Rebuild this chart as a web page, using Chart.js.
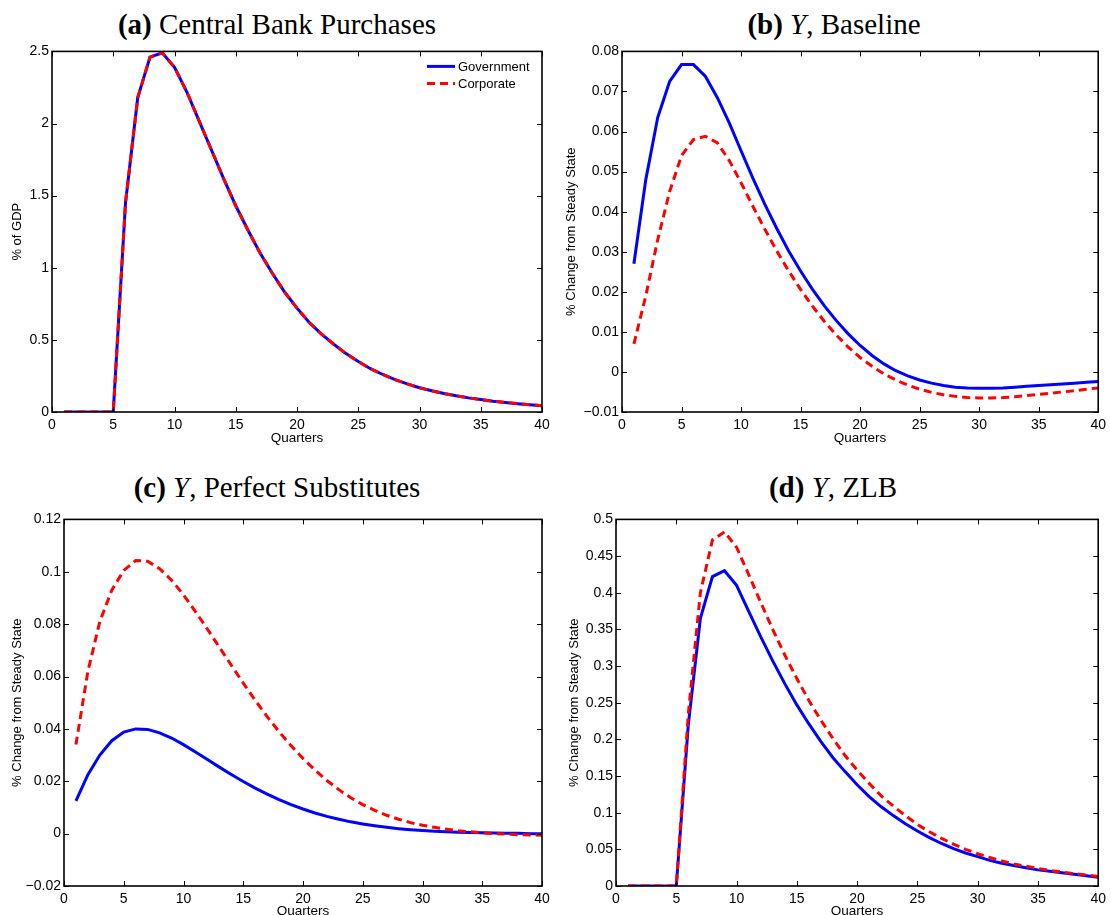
<!DOCTYPE html>
<html>
<head>
<meta charset="utf-8">
<script src="https://cdn.jsdelivr.net/npm/chart.js@4"></script>
<style>
body{margin:0;background:#fff;width:1111px;height:915px;position:relative;overflow:hidden}
canvas{position:absolute}
.ttl{position:absolute;font-family:"Liberation Serif","Times New Roman",serif;font-size:29px;line-height:29px;color:#000;white-space:nowrap;transform:translateX(-50%)}
.ttl i{font-style:italic}
</style>
</head>
<body>

<div class="ttl" style="left:277px;top:10px"><b>(a)</b> Central Bank Purchases</div>
<div class="ttl" style="left:834px;top:10px"><b>(b)</b> <i>Y</i>, Baseline</div>
<div class="ttl" style="left:277px;top:473px"><b>(c)</b> <i>Y</i>, Perfect Substitutes</div>
<div class="ttl" style="left:833px;top:473px"><b>(d)</b> <i>Y</i>, ZLB</div>

<canvas id="chartA" width="560" height="406" style="left:0px;top:40px"></canvas>
<canvas id="chartB" width="551" height="406" style="left:560px;top:40px"></canvas>
<canvas id="chartC" width="560" height="411" style="left:0px;top:508px"></canvas>
<canvas id="chartD" width="551" height="411" style="left:560px;top:508px"></canvas>

<script>

// quarters 1..40
const quarters=[1,2,3,4,5,6,7,8,9,10,11,12,13,14,15,16,17,18,19,20,21,22,23,24,25,26,27,28,29,30,31,32,33,34,35,36,37,38,39,40]

const xTicks=[0,5,10,15,20,25,30,35,40]

// (a) central bank purchases, % of GDP
const purchGov=[0,0,0,0,0,1.45,2.18,2.46,2.49,2.39,2.22,2.02,1.82,1.62,1.43,1.26,1.10,0.96,0.83,0.72,0.62,0.54,0.47,0.405,0.35,0.30,0.26,0.225,0.195,0.168,0.147,0.128,0.112,0.098,0.086,0.075,0.066,0.058,0.051,0.044]
const purchCorp=[0,0,0,0,0,1.45,2.18,2.46,2.49,2.39,2.22,2.02,1.82,1.62,1.43,1.26,1.10,0.96,0.83,0.72,0.62,0.54,0.47,0.405,0.35,0.30,0.26,0.225,0.195,0.168,0.147,0.128,0.112,0.098,0.086,0.075,0.066,0.058,0.051,0.044]
const yTicksA=[0,0.5,1,1.5,2,2.5]

// (b) Y, baseline
const baseGov=[0.027,0.048,0.0635,0.0725,0.0767,0.0767,0.0738,0.0685,0.0622,0.0552,0.0483,0.0418,0.0358,0.0302,0.0252,0.0206,0.0165,0.0128,0.0095,0.0066,0.0041,0.002,0.0003,-0.001,-0.002,-0.0028,-0.0034,-0.0038,-0.004,-0.0041,-0.0041,-0.004,-0.0038,-0.0036,-0.0034,-0.0032,-0.003,-0.0028,-0.0026,-0.0024]
const baseCorp=[0.007,0.019,0.033,0.045,0.054,0.058,0.0588,0.0572,0.0528,0.0472,0.0413,0.0356,0.0302,0.0252,0.0206,0.0164,0.0126,0.0092,0.0062,0.0036,0.0014,-0.0005,-0.002,-0.0033,-0.0043,-0.0051,-0.0057,-0.0061,-0.0064,-0.0065,-0.0065,-0.0064,-0.0062,-0.0059,-0.0056,-0.0053,-0.005,-0.0047,-0.0043,-0.004]
const yTicksB=[-0.01,0,0.01,0.02,0.03,0.04,0.05,0.06,0.07,0.08]

// (c) Y, perfect substitutes
const subsGov=[0.0125,0.0225,0.030,0.0355,0.0388,0.040,0.0398,0.0385,0.0365,0.034,0.0312,0.0283,0.0254,0.0226,0.0199,0.0174,0.0151,0.013,0.0111,0.0094,0.0079,0.0066,0.0055,0.0045,0.0037,0.003,0.0024,0.0019,0.0015,0.0012,0.0009,0.0007,0.0005,0.0004,0.0003,0.0002,0.0001,0.0001,0,0]
const subsCorp=[0.034,0.062,0.081,0.093,0.1005,0.1043,0.104,0.1012,0.0968,0.0912,0.0848,0.0781,0.0712,0.0643,0.0575,0.0509,0.0447,0.0389,0.0336,0.0287,0.0243,0.0203,0.0168,0.0137,0.0111,0.0089,0.007,0.0055,0.0042,0.0032,0.0024,0.0017,0.0011,0.0007,0.0003,0,-0.0002,-0.0004,-0.0005,-0.0006]
const yTicksC=[-0.02,0,0.02,0.04,0.06,0.08,0.1,0.12]

// (d) Y, ZLB
const zlbGov=[0,0,0,0,0,0.22,0.365,0.422,0.43,0.41,0.375,0.34,0.307,0.276,0.247,0.221,0.197,0.175,0.156,0.138,0.122,0.108,0.096,0.085,0.075,0.066,0.058,0.051,0.045,0.040,0.035,0.031,0.028,0.025,0.022,0.020,0.018,0.016,0.014,0.012]
const zlbCorp=[0,0,0,0,0,0.235,0.40,0.472,0.483,0.462,0.425,0.387,0.35,0.315,0.283,0.253,0.226,0.201,0.178,0.158,0.140,0.123,0.109,0.096,0.084,0.074,0.065,0.057,0.050,0.044,0.039,0.034,0.030,0.027,0.024,0.021,0.019,0.017,0.015,0.013]
const yTicksD=[0,0.05,0.1,0.15,0.2,0.25,0.3,0.35,0.4,0.45,0.5]

const seriesNames=["Government","Corporate"]

const tickFont={family:"'Liberation Sans', Arial, sans-serif",size:14}

function fmt(v){
let s=String(Number(v.toFixed(4)))
return s.replace("-","\u2212")
}

function pts(vals){
return quarters.map((q,i)=>({x:q,y:vals[i]}))
}

// axes box with inward ticks on all four sides
const boxPlugin={
id:"box",
afterDatasetsDraw(chart){
let ctx=chart.ctx
let a=chart.chartArea
let x=chart.scales.x
let y=chart.scales.y
ctx.save()
ctx.strokeStyle="#000"
ctx.lineWidth=1
ctx.beginPath()
x.ticks.forEach(t=>{
let px=Math.round(x.getPixelForValue(t.value))+0.5
ctx.moveTo(px,a.bottom);ctx.lineTo(px,a.bottom-5)
ctx.moveTo(px,a.top);ctx.lineTo(px,a.top+5)
})
y.ticks.forEach(t=>{
let py=Math.round(y.getPixelForValue(t.value))+0.5
ctx.moveTo(a.left,py);ctx.lineTo(a.left+5,py)
ctx.moveTo(a.right,py);ctx.lineTo(a.right-5,py)
})
ctx.stroke()
ctx.lineWidth=1.6
ctx.strokeRect(a.left,a.top,a.right-a.left,a.bottom-a.top)
ctx.restore()
}
}

// legend inside top right (panel a only)
const legendPlugin={
id:"innerLegend",
afterDraw(chart,args,opts){
if(!opts.show) return
let ctx=chart.ctx
let a=chart.chartArea
ctx.save()
chart.data.datasets.forEach((ds,i)=>{
let yy=a.top+15+i*17
ctx.strokeStyle=ds.borderColor
ctx.lineWidth=ds.borderWidth
ctx.setLineDash(ds.borderDash||[])
ctx.beginPath()
ctx.moveTo(a.right-115,yy)
ctx.lineTo(a.right-87,yy)
ctx.stroke()
ctx.setLineDash([])
ctx.fillStyle="#000"
ctx.font="13px 'Liberation Sans', Arial, sans-serif"
ctx.textBaseline="middle"
ctx.fillText(ds.label,a.right-84,yy+1)
})
ctx.restore()
}
}

function makePanel(id,gov,corp,yTicks,yTitle,g){

new Chart(document.getElementById(id),{

type:"line",

data:{
datasets:[
{label:seriesNames[0],data:pts(gov),borderColor:"#0000ff",borderWidth:3,pointRadius:0,tension:0,order:1},
{label:seriesNames[1],data:pts(corp),borderColor:"#ff0000",borderWidth:3,borderDash:[8,5],pointRadius:0,tension:0,order:0}
]
},

options:{
responsive:false,
animation:false,
layout:{padding:{left:0,top:10,right:g.padRight,bottom:0}},
plugins:{
legend:{display:false},
tooltip:{enabled:false},
innerLegend:{show:g.legend}
},
scales:{
x:{
type:"linear",
min:0,max:40,
grid:{display:false,drawTicks:false},
border:{display:false},
afterBuildTicks:s=>{s.ticks=xTicks.map(v=>({value:v}))},
afterFit:s=>{s.height=g.xHeight},
ticks:{font:tickFont,color:"#000",padding:5,maxRotation:0,autoSkip:false,callback:v=>fmt(v)},
title:{display:true,text:"Quarters",color:"#000",font:{family:tickFont.family,size:13.5},padding:{top:0,bottom:0}}
},
y:{
type:"linear",
min:yTicks[0],max:yTicks[yTicks.length-1],
grid:{display:false,drawTicks:false},
border:{display:false},
afterBuildTicks:s=>{s.ticks=yTicks.map(v=>({value:v}))},
afterFit:s=>{s.width=g.yWidth},
ticks:{font:tickFont,color:"#000",padding:3,autoSkip:false,callback:v=>fmt(v)},
title:{display:true,text:yTitle,color:"#000",font:{family:tickFont.family,size:13},padding:{top:g.titlePad,bottom:0}}
}
}
},

plugins:[boxPlugin,legendPlugin]

})

}

makePanel("chartA",purchGov,purchCorp,yTicksA,"% of GDP",{yWidth:52,padRight:18,xHeight:34,titlePad:10,legend:true})
makePanel("chartB",baseGov,baseCorp,yTicksB,"% Change from Steady State",{yWidth:62,padRight:12,xHeight:34,titlePad:4,legend:false})
makePanel("chartC",subsGov,subsCorp,yTicksC,"% Change from Steady State",{yWidth:64,padRight:18,xHeight:33,titlePad:10,legend:false})
makePanel("chartD",zlbGov,zlbCorp,yTicksD,"% Change from Steady State",{yWidth:56,padRight:12,xHeight:33,titlePad:7,legend:false})

</script>
</body>
</html>
